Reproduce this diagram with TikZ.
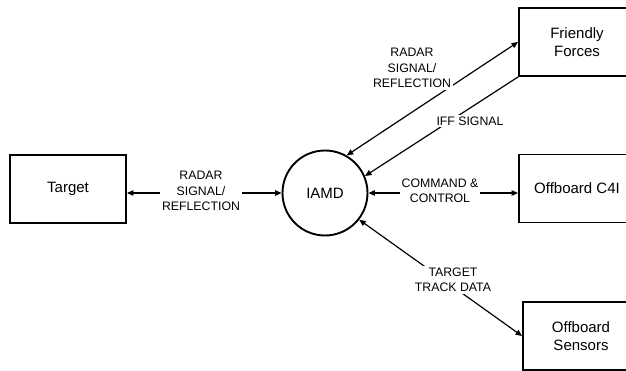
\documentclass[tikz,border=0pt]{standalone}
\usepackage{fontspec}
\setmainfont{Liberation Sans}
\usetikzlibrary{arrows.meta}
\tikzset{blk/.style={draw,line width=1.9pt,minimum width=116pt,minimum
height=68pt,inner sep=0pt,align=center,font=\fontsize{15}{18}\selectfont},
hub/.style={draw,circle,line width=1.9pt,minimum size=85pt,inner
sep=0pt,font=\fontsize{15}{18}\selectfont},
lbl/.style={fill=white,align=center,inner sep=2pt,font=\fontsize{12.3}{15.5}\selectfont},
flow/.style={line width=1.2pt,>={Triangle[length=6.5pt,width=5.5pt]}}}

\begin{document}
\begin{tikzpicture}[x=1pt,y=-1pt]
		\useasboundingbox (0,0) rectangle (626,371);
		\node[blk] (target) at (68,189) {Target};
		\node[hub] (iamd) at (325,193) {IAMD};
		\node[blk] (friendly) at (577,42) {Friendly\\Forces};
		\node[blk] (c4i) at (577,188.5) {Offboard C4I};
		\node[blk] (sensors) at (581,336) {Offboard\\Sensors};
		\draw[flow,<->] (iamd.west) -- (iamd.west -| target.east);
		\draw[flow,<->] (iamd.60) -- (friendly.west);
		\draw[flow,->] (friendly.south west) -- (iamd.23);
		\draw[flow,<->] (iamd.east) -- (iamd.east -| c4i.west);
		\draw[flow,<->] (iamd.-38) -- (sensors.west);
		\node[lbl] (radarout) at (201,191) {RADAR\\SIGNAL/\\REFLECTION};
		\node[lbl] (radarff) at (412,68) {RADAR\\SIGNAL/\\REFLECTION};
		\node[lbl] (iff) at (470,121) {IFF SIGNAL};
		\node[lbl] (cmd) at (440,191) {COMMAND \&\\CONTROL};
		\node[lbl] (track) at (453,280) {TARGET\\TRACK DATA};
	\end{tikzpicture}
\end{document}
